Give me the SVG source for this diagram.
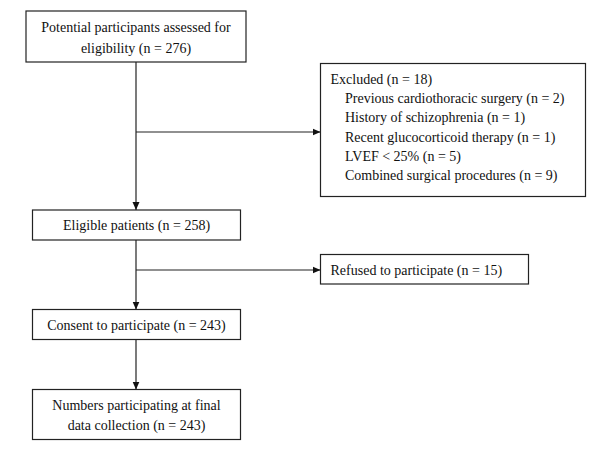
<svg xmlns="http://www.w3.org/2000/svg" width="600" height="456" viewBox="0 0 600 456">
<style>
.box{fill:#fff;stroke:#222;stroke-width:1.2}
.t{font-family:"Liberation Serif","Times New Roman",serif;font-size:14px;fill:#111}
.c{text-anchor:middle}
.ln{stroke:#222;stroke-width:1.2;fill:none}
</style>
<defs>
<marker id="ah" markerWidth="8" markerHeight="8" refX="8" refY="4" orient="auto" markerUnits="userSpaceOnUse">
<path d="M0,0.5 L8,4 L0,7.5 Z" fill="#111"/>
</marker>
</defs>
<rect width="600" height="456" fill="#fff"/>
<g id="connectors">
<line class="ln" x1="136" y1="62" x2="136" y2="210" marker-end="url(#ah)"/>
<line class="ln" x1="136" y1="132" x2="320.5" y2="132" marker-end="url(#ah)"/>
<line class="ln" x1="136" y1="240" x2="136" y2="309.5" marker-end="url(#ah)"/>
<line class="ln" x1="136" y1="270" x2="320.5" y2="270" marker-end="url(#ah)"/>
<line class="ln" x1="136" y1="339.5" x2="136" y2="389.5" marker-end="url(#ah)"/>
</g>
<g id="potential">
<rect class="box" x="26" y="11" width="220" height="51"/>
<text class="t c" x="136" y="31.5">Potential participants assessed for</text>
<text class="t c" x="136" y="52.5">eligibility (n = 276)</text>
</g>
<g id="excluded">
<rect class="box" x="320.5" y="63.5" width="265" height="133"/>
<text class="t" x="330.5" y="83.5">Excluded (n = 18)</text>
<text class="t" x="345" y="103">Previous cardiothoracic surgery (n = 2)</text>
<text class="t" x="345" y="122">History of schizophrenia (n = 1)</text>
<text class="t" x="345" y="141.5">Recent glucocorticoid therapy (n = 1)</text>
<text class="t" x="345" y="161">LVEF &lt; 25% (n = 5)</text>
<text class="t" x="345" y="180">Combined surgical procedures (n = 9)</text>
</g>
<g id="eligible">
<rect class="box" x="32.5" y="210" width="208" height="30"/>
<text class="t c" x="136.5" y="230">Eligible patients (n = 258)</text>
</g>
<g id="refused">
<rect class="box" x="320.5" y="254.5" width="208" height="29.5"/>
<text class="t" x="330.5" y="275">Refused to participate (n = 15)</text>
</g>
<g id="consent">
<rect class="box" x="32.5" y="309.5" width="208" height="30"/>
<text class="t c" x="136.5" y="329.5">Consent to participate (n = 243)</text>
</g>
<g id="final">
<rect class="box" x="32.5" y="389.5" width="208" height="50"/>
<text class="t c" x="136.5" y="410">Numbers participating at final</text>
<text class="t c" x="136.5" y="430">data collection (n = 243)</text>
</g>
</svg>
